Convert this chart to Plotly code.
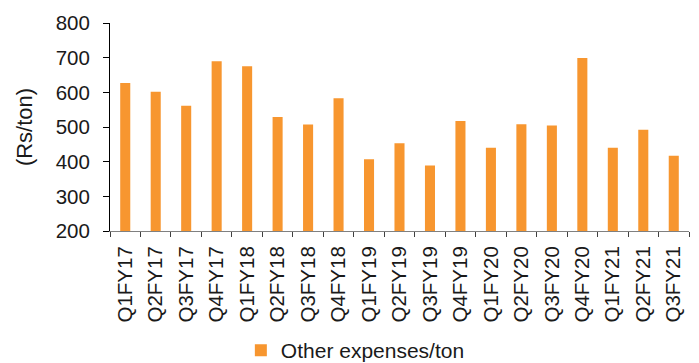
import plotly.graph_objects as go

quarters = ["Q1FY17", "Q2FY17", "Q3FY17", "Q4FY17", "Q1FY18", "Q2FY18", "Q3FY18",
            "Q4FY18", "Q1FY19", "Q2FY19", "Q3FY19", "Q4FY19", "Q1FY20", "Q2FY20",
            "Q3FY20", "Q4FY20", "Q1FY21", "Q2FY21", "Q3FY21"]
other_exp_per_ton = [627, 602, 561, 690, 675, 529, 507, 583, 407, 453, 389, 517,
                     440, 508, 504, 699, 440, 492, 417]
y_ticks = [200, 300, 400, 500, 600, 700, 800]

FONT = "Liberation Sans, Arial, sans-serif"

fig = go.Figure(
    go.Bar(
        x=quarters,
        y=other_exp_per_ton,
        name="Other expenses/ton",
        marker=dict(color="#F7962F", line=dict(width=0)),
    )
)

fig.update_layout(
    width=699,
    height=363,
    margin=dict(l=110, r=10, t=23, b=132, autoexpand=False),
    paper_bgcolor="white",
    plot_bgcolor="white",
    bargap=0.67,
    font=dict(family=FONT, size=20, color="#1a1a1a"),
    showlegend=True,
    legend=dict(
        orientation="h",
        x=0.226,
        xanchor="left",
        y=-0.575,
        yanchor="middle",
        font=dict(size=21),
        itemwidth=30,
    ),
)

fig.update_xaxes(
    type="category",
    tickangle=-90,
    showline=True,
    linecolor="#808080",
    linewidth=1,
    ticks="outside",
    tickson="boundaries",
    ticklen=5,
    tickcolor="#404040",
    showgrid=False,
    tickfont=dict(size=20.5),
    ticklabelstandoff=6,
)

fig.update_yaxes(
    range=[200, 800],
    tickvals=y_ticks,
    showline=True,
    linecolor="black",
    linewidth=1,
    ticks="outside",
    ticklen=6,
    tickcolor="black",
    showgrid=False,
    zeroline=False,
    tickfont=dict(size=20.5),
    ticklabelstandoff=9,
    title=dict(text="(Rs/ton)", font=dict(size=22), standoff=16),
)

fig.write_html("out.html")
